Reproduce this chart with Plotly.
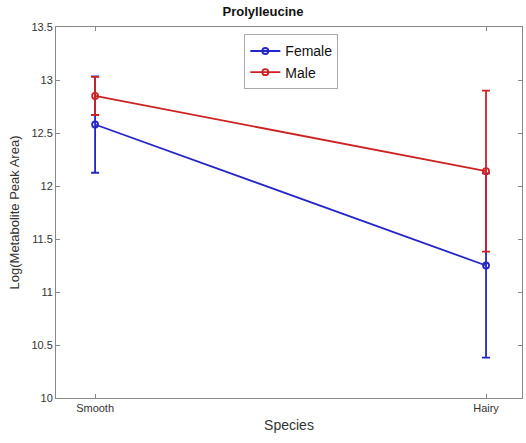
import plotly.graph_objects as go

species = ["Smooth", "Hairy"]
x_pos = [1, 2]
female_mean = [12.58, 11.25]
female_err = [0.455, 0.87]
male_mean = [12.85, 12.14]
male_err = [0.18, 0.76]

blue = "#2525c8"
red = "#cc2222"

fig = go.Figure()
fig.add_trace(go.Scatter(
    x=x_pos, y=female_mean, name="Female", mode="lines+markers",
    line=dict(color=blue, width=1.8),
    marker=dict(symbol="circle-open", size=6, color=blue, line=dict(width=1.8)),
    error_y=dict(type="data", array=female_err, visible=True, color=blue, thickness=1.8, width=4),
))
fig.add_trace(go.Scatter(
    x=x_pos, y=male_mean, name="Male", mode="lines+markers",
    line=dict(color=red, width=1.8),
    marker=dict(symbol="circle-open", size=6, color=red, line=dict(width=1.8)),
    error_y=dict(type="data", array=male_err, visible=True, color=red, thickness=1.8, width=4),
))

axis_common = dict(showline=True, mirror="ticks", linecolor="#888888", linewidth=1,
                   ticks="inside", ticklen=4, tickcolor="#888888", showgrid=False,
                   zeroline=False, tickfont=dict(size=11, color="#333333"))

fig.update_layout(
    width=526, height=443,
    margin=dict(l=56, r=4, t=27, b=45),
    paper_bgcolor="white", plot_bgcolor="white",
    font=dict(family="Liberation Sans, Arial, sans-serif", color="#333333"),
    title=dict(text="<b>Prolylleucine</b>", x=0.5, xanchor="center", y=0.985, yanchor="top",
               font=dict(size=13, color="#111111")),
    xaxis=dict(range=[0.9, 2.092], tickvals=x_pos, ticktext=species,
               title=dict(text="Species", font=dict(size=14), standoff=6), **axis_common),
    yaxis=dict(range=[10, 13.5], tickvals=[10, 10.5, 11, 11.5, 12, 12.5, 13, 13.5],
               ticktext=["10", "10.5", "11", "11.5", "12", "12.5", "13", "13.5"],
               title=dict(text="Log(Metabolite Peak Area)", font=dict(size=13), standoff=8), **axis_common),
    legend=dict(x=0.505, xanchor="center", y=0.98, yanchor="top",
                bordercolor="#aaaaaa", borderwidth=1, bgcolor="white",
                font=dict(size=14, color="#111111"), itemwidth=30),
    showlegend=True,
)

fig.write_html("out.html")
